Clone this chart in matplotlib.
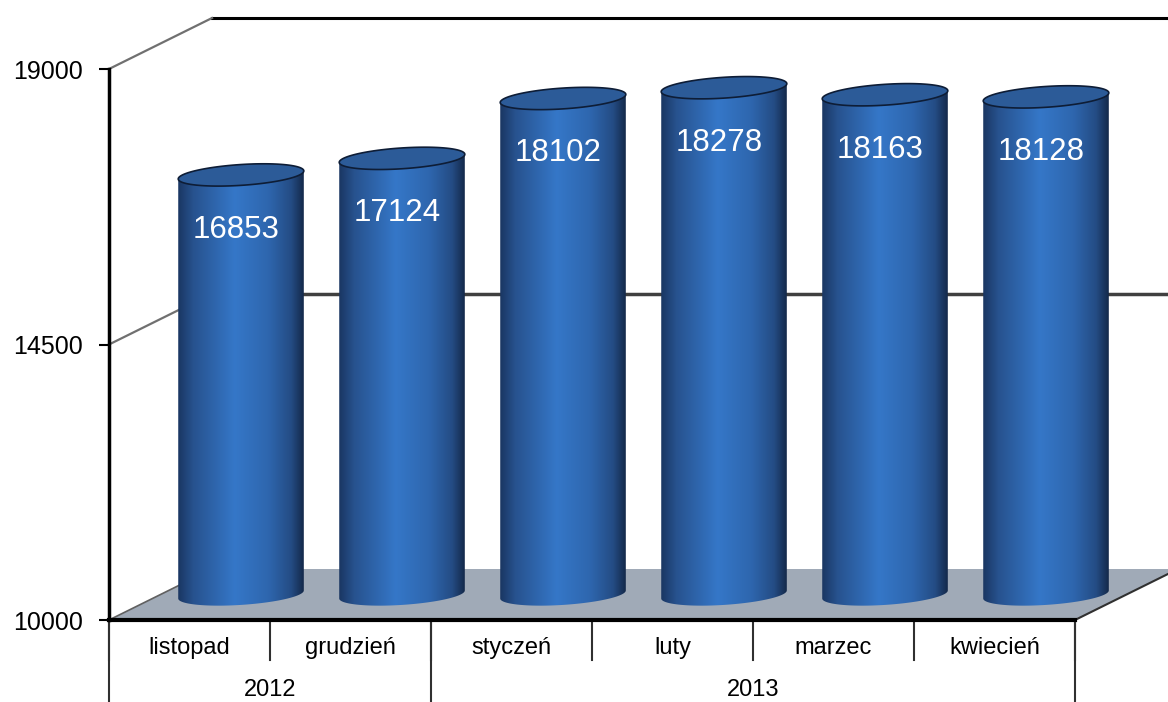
import numpy as np
import matplotlib
matplotlib.use("Agg")
import matplotlib.pyplot as plt
import matplotlib.transforms as mtransforms
from matplotlib.patches import Polygon
from matplotlib.colors import LinearSegmentedColormap

# data
months = ['listopad', 'grudzień', 'styczeń', 'luty', 'marzec', 'kwiecień']
years = ['2012', '2013']
months_per_year = [2, 4]
values = [16853, 17124, 18102, 18278, 18163, 18128]
y_ticks = [10000, 14500, 19000]

plt.rcParams['font.family'] = ['Liberation Sans', 'DejaVu Sans']

fig = plt.figure(figsize=(11.68, 7.02), dpi=100)
ax = fig.add_axes([109 / 1168, 82 / 702, 966 / 1168, 551 / 702])

ymin, ymax = y_ticks[0], y_ticks[-1]
n = len(months)

# depth of the pseudo-3D box, in data units
DX = 0.64
DY = 833
R = 0.39          # cylinder radius (x units)
B = 170           # half height of ellipses (value units)
SHEAR = 168       # tilt of the ellipses

# floor
floor = Polygon([(-0.5, ymin), (n - 0.5, ymin), (n - 0.5 + DX, ymin + DY), (-0.5 + DX, ymin + DY)],
                closed=True, facecolor='#A0AAB7', edgecolor='none', zorder=1, clip_on=False)
ax.add_patch(floor)
ax.plot([n - 0.5, n - 0.5 + DX], [ymin, ymin + DY], color='#303030', lw=1.5, zorder=1.2, clip_on=False)
ax.plot([-0.5, -0.5 + DX], [ymin, ymin + DY], color='#606060', lw=1.2, zorder=1.2, clip_on=False)

# back wall lines and side wall diagonals
ax.plot([-0.5 + DX, n - 0.5 + DX], [14500 + DY, 14500 + DY], color='#404040', lw=2.5, zorder=1.5, clip_on=False)
ax.plot([-0.5 + DX, n - 0.5 + DX], [ymax + DY, ymax + DY], color='black', lw=2.2, zorder=1.5, clip_on=False)
for v in [14500, ymax]:
    ax.plot([-0.5, -0.5 + DX], [v, v + DY], color='#707070', lw=1.6, zorder=1.5, clip_on=False)

# cylinder shading
cyl_cmap = LinearSegmentedColormap.from_list('cyl', [
    (0.0, '#1A3662'), (0.12, '#27528E'), (0.45, '#3577C8'),
    (0.72, '#2E66AE'), (0.9, '#244C84'), (1.0, '#14294A')])
grad = np.linspace(0, 1, 256)[np.newaxis, :]

t_low = np.linspace(np.pi, 2 * np.pi, 80)
t_up = np.linspace(0, np.pi, 80)
t_all = np.linspace(0, 2 * np.pi, 160)


def ellipse_pts(xc, yc, t):
    return np.column_stack([xc + R * np.cos(t), yc + B * np.sin(t) + SHEAR * R * np.cos(t)])


for i, v in enumerate(values):
    xc = i + DX / 2
    yb = ymin + DY / 2
    yt = v + DY / 2
    body = np.vstack([ellipse_pts(xc, yb, t_low), ellipse_pts(xc, yt, t_up)])
    body_patch = Polygon(body, closed=True, facecolor='none', edgecolor='none',
                         zorder=3, clip_on=False)
    ax.add_patch(body_patch)
    im = ax.imshow(grad, cmap=cyl_cmap, aspect='auto', interpolation='bilinear',
                   extent=[xc - R, xc + R, yb - 2 * B, yt + 2 * B], zorder=3)
    im.set_clip_box(fig.bbox)
    im.set_clip_path(body_patch)
    top = Polygon(ellipse_pts(xc, yt, t_all), closed=True, facecolor='#2C5B98',
                  edgecolor='#0E1D36', lw=1.2, zorder=4, clip_on=False)
    ax.add_patch(top)
    lbl_tr = ax.transData + mtransforms.ScaledTranslation(-0.05, -0.55, fig.dpi_scale_trans)
    ax.text(xc, yt, str(v), transform=lbl_tr, ha='center', va='center',
            color='white', fontsize=22.5, zorder=5)

ax.set_xlim(-0.5, n - 0.5)
ax.set_ylim(ymin, ymax)

# axes styling
for s in ['top', 'right']:
    ax.spines[s].set_visible(False)
ax.spines['left'].set_linewidth(2.5)
ax.spines['bottom'].set_linewidth(3)
ax.spines['left'].set_zorder(2)
ax.spines['bottom'].set_zorder(2)
ax.set_yticks(y_ticks)
ax.set_yticklabels([str(t) for t in y_ticks])
ax.tick_params(axis='y', length=7, width=1.5, labelsize=18, pad=12, direction='out')
ax.set_xticks([])

# category table below the floor
xtr = ax.get_xaxis_transform()
ax_h = 551
for k in range(n + 1):
    ax.plot([k - 0.5, k - 0.5], [0, -40 / ax_h], transform=xtr, color='#303030',
            lw=1.5, clip_on=False)
for m, name in enumerate(months):
    ax.text(m, -28 / ax_h, name, transform=xtr, ha='center', va='center', fontsize=17)

start = 0
edges = [-0.5]
for y, cnt in zip(years, months_per_year):
    ax.text(start + (cnt - 1) / 2, -70 / ax_h, y, transform=xtr, ha='center', va='center', fontsize=17)
    start += cnt
    edges.append(start - 0.5)
for e in edges:
    ax.plot([e, e], [0, -90 / ax_h], transform=xtr, color='#303030', lw=1.5, clip_on=False)

fig.savefig('out.png', dpi=100)
